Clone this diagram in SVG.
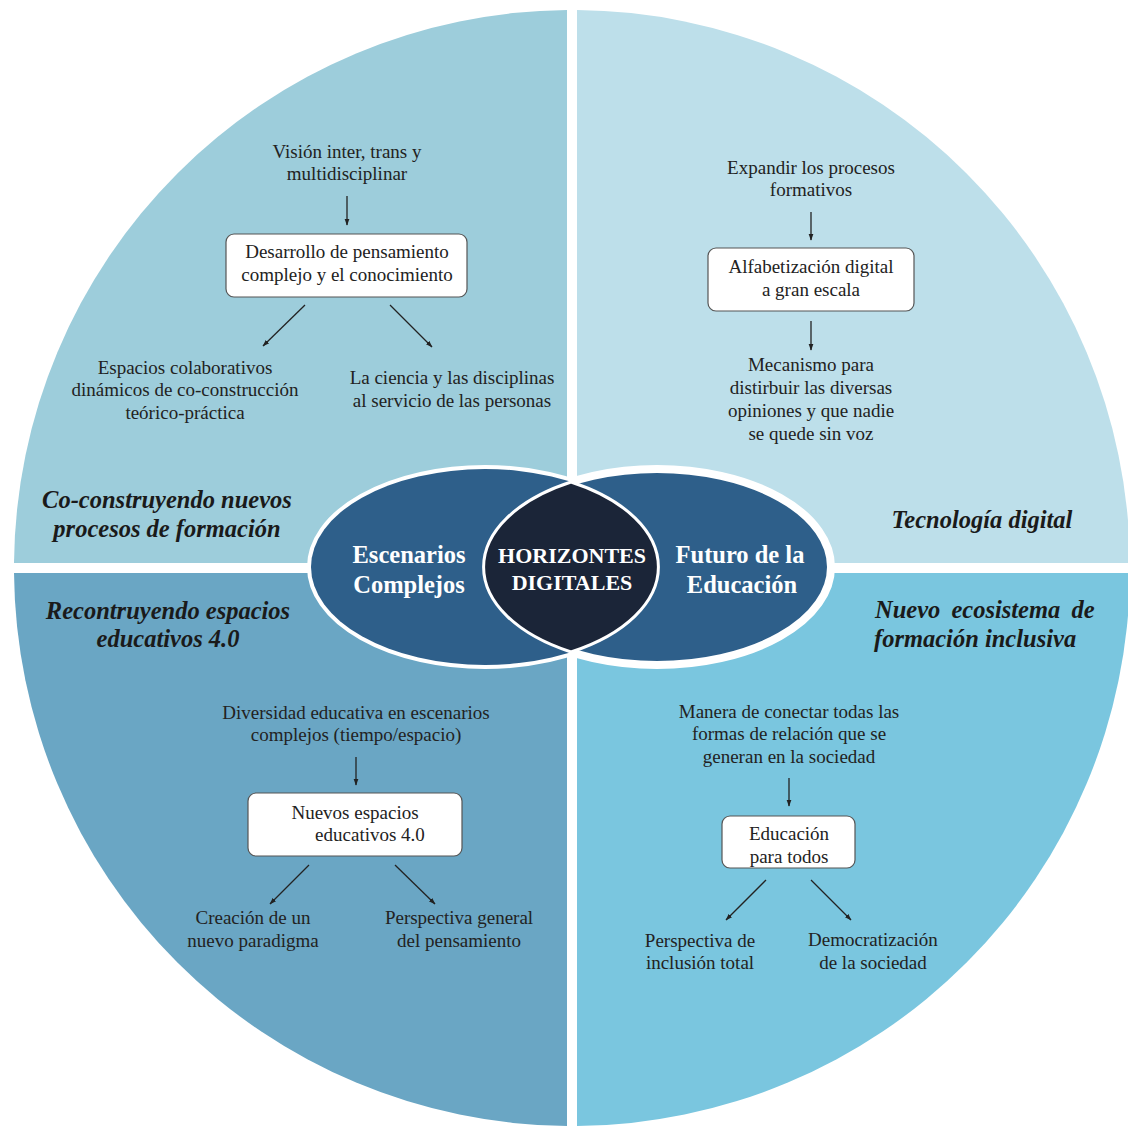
<svg xmlns="http://www.w3.org/2000/svg" width="1128" height="1126" viewBox="0 0 1128 1126">
<defs>
<style>
text{font-family:'Liberation Serif','DejaVu Serif',serif}
.t{font-size:19px;fill:#222;text-anchor:middle}
.h{font-size:24.5px;font-weight:bold;font-style:italic;fill:#1a1a1a;text-anchor:middle}
.c{font-weight:bold;fill:#fff;text-anchor:middle}
.box{fill:#fff;stroke:#555;stroke-width:1.2}
.ar{stroke:#222;stroke-width:1.3;fill:none;marker-end:url(#ah)}
</style>
<marker id="ah" viewBox="0 0 10 10" refX="9" refY="5" markerWidth="7" markerHeight="7" orient="auto" markerUnits="userSpaceOnUse">
<path d="M0,1.5 L10,5 L0,8.5 Z" fill="#222"/>
</marker>
</defs>
<rect width="1128" height="1126" fill="#fff"/>
<g id="quadrants">
<path id="q-tl" d="M567,563 L14,563 A558,558 0 0 1 567,10 Z" fill="#9dcddb"/>
<path id="q-tr" d="M577,563 L577,10 A558,558 0 0 1 1130,563 Z" fill="#bddfea"/>
<path id="q-br" d="M577,573 L1130,573 A558,558 0 0 1 577,1126 Z" fill="#7ac6df"/>
<path id="q-bl" d="M567,573 L567,1126 A558,558 0 0 1 14,573 Z" fill="#6aa6c4"/>
</g>
<g id="center">
<ellipse cx="485" cy="567" rx="174" ry="98" fill="#2e5f8a" stroke="#fff" stroke-width="8"/>
<ellipse cx="657" cy="567" rx="174" ry="98" fill="#2e5f8a" stroke="#fff" stroke-width="8"/>
<ellipse cx="485" cy="567" rx="174" ry="98" fill="#2e5f8a"/>
<path id="lens" d="M571,482 A174,98 0 0 1 571,652 A174,98 0 0 1 571,482 Z" fill="#1b2538" stroke="#fff" stroke-width="3"/>
<text class="c" x="409" y="563" font-size="24.5">Escenarios</text>
<text class="c" x="409" y="593" font-size="24.5">Complejos</text>
<text class="c" x="572" y="563" font-size="22">HORIZONTES</text>
<text class="c" x="572" y="590" font-size="22">DIGITALES</text>
<text class="c" x="740" y="563" font-size="24.5">Futuro de la</text>
<text class="c" x="742" y="593" font-size="24.5">Educación</text>
</g>
<g id="titles">
<text class="h" x="167" y="508">Co-construyendo nuevos</text>
<text class="h" x="167" y="537">procesos de formación</text>
<text class="h" x="982" y="528">Tecnología digital</text>
<text class="h" x="168" y="619">Recontruyendo espacios</text>
<text class="h" x="168" y="647">educativos 4.0</text>
<text class="h" x="875" y="618" style="text-anchor:start" word-spacing="5">Nuevo ecosistema de</text>
<text class="h" x="874" y="647" style="text-anchor:start">formación inclusiva</text>
</g>
<g id="node-tl-top"><text class="t" x="347" y="158">Visión inter, trans y</text><text class="t" x="347" y="180">multidisciplinar</text></g>
<g id="node-tl-box"><rect class="box" x="226" y="234" width="241" height="63" rx="8"/><text class="t" x="347" y="258">Desarrollo de pensamiento</text><text class="t" x="347" y="281">complejo y el conocimiento</text></g>
<g id="node-tl-left"><text class="t" x="185" y="374">Espacios colaborativos</text><text class="t" x="185" y="396">dinámicos de co-construcción</text><text class="t" x="185" y="419">teórico-práctica</text></g>
<g id="node-tl-right"><text class="t" x="452" y="384">La ciencia y las disciplinas</text><text class="t" x="452" y="407">al servicio de las personas</text></g>
<g id="node-tr-top"><text class="t" x="811" y="174">Expandir los procesos</text><text class="t" x="811" y="196">formativos</text></g>
<g id="node-tr-box"><rect class="box" x="708" y="248" width="206" height="63" rx="8"/><text class="t" x="811" y="273">Alfabetización digital</text><text class="t" x="811" y="296">a gran escala</text></g>
<g id="node-tr-bottom"><text class="t" x="811" y="371">Mecanismo para</text><text class="t" x="811" y="394">distirbuir las diversas</text><text class="t" x="811" y="417">opiniones y que nadie</text><text class="t" x="811" y="440">se quede sin voz</text></g>
<g id="node-bl-top"><text class="t" x="356" y="719">Diversidad educativa en escenarios</text><text class="t" x="356" y="741">complejos (tiempo/espacio)</text></g>
<g id="node-bl-box"><rect class="box" x="248" y="793" width="214" height="63" rx="8"/><text class="t" x="355" y="819">Nuevos espacios</text><text class="t" x="370" y="841">educativos 4.0</text></g>
<g id="node-bl-left"><text class="t" x="253" y="924">Creación de un</text><text class="t" x="253" y="947">nuevo paradigma</text></g>
<g id="node-bl-right"><text class="t" x="459" y="924">Perspectiva general</text><text class="t" x="459" y="947">del pensamiento</text></g>
<g id="node-br-top"><text class="t" x="789" y="718">Manera de conectar todas las</text><text class="t" x="789" y="740">formas de relación que se</text><text class="t" x="789" y="763">generan en la sociedad</text></g>
<g id="node-br-box"><rect class="box" x="722" y="816" width="133" height="52" rx="8"/><text class="t" x="789" y="840">Educación</text><text class="t" x="789" y="863">para todos</text></g>
<g id="node-br-left"><text class="t" x="700" y="947">Perspectiva de</text><text class="t" x="700" y="969">inclusión total</text></g>
<g id="node-br-right"><text class="t" x="873" y="946">Democratización</text><text class="t" x="873" y="969">de la sociedad</text></g>
<g id="connectors">
<line class="ar" x1="347" y1="196" x2="347" y2="225"/>
<line class="ar" x1="305" y1="305" x2="263" y2="346"/>
<line class="ar" x1="390" y1="305" x2="432" y2="347"/>
<line class="ar" x1="811" y1="212" x2="811" y2="240"/>
<line class="ar" x1="811" y1="321" x2="811" y2="350"/>
<line class="ar" x1="356" y1="757" x2="356" y2="785"/>
<line class="ar" x1="309" y1="865" x2="270" y2="904"/>
<line class="ar" x1="395" y1="865" x2="435" y2="904"/>
<line class="ar" x1="789" y1="778" x2="789" y2="806"/>
<line class="ar" x1="766" y1="880" x2="726" y2="920"/>
<line class="ar" x1="811" y1="880" x2="851" y2="920"/>
</g>
</svg>
